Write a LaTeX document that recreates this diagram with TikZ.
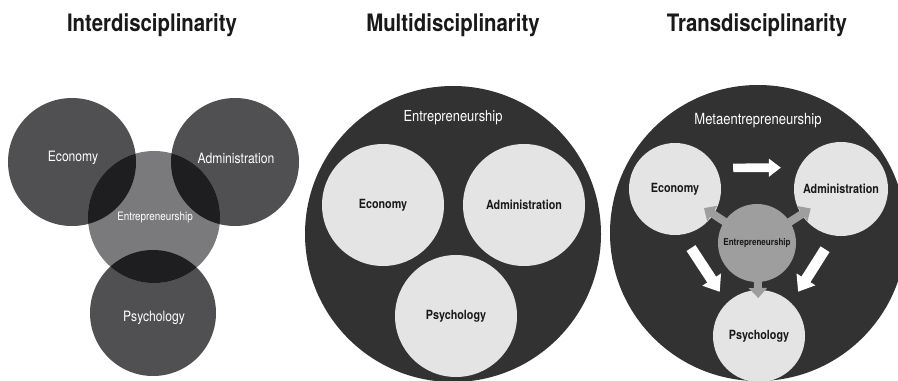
\documentclass[tikz,border=0pt]{standalone}
\usepackage{fontspec}
\setmainfont{TeX Gyre Heros}[FakeStretch=0.85]
\usetikzlibrary{arrows.meta}

\definecolor{ringgray}{RGB}{80,80,82}
\definecolor{entgray}{RGB}{122,122,124}
\definecolor{lensgray}{RGB}{30,30,32}
\definecolor{bigdark}{RGB}{50,50,50}
\definecolor{paper}{RGB}{228,228,228}
\definecolor{midgray}{RGB}{158,158,158}
\definecolor{ink}{RGB}{25,25,25}

\tikzset{
  disc/.style={circle, inner sep=0pt, minimum size={1.5pt*#1}},
  title/.style={anchor=base, font=\bfseries\fontsize{18}{20}\selectfont, text=ink},
  wlabel/.style={text=white, font=\fontsize{10.7}{12}\selectfont},
  blabel/.style={text=ink, font=\bfseries\fontsize{9.5}{11}\selectfont},
  warrow/.style={draw=white, line width=6.5pt, -{Triangle[length=9pt, width=13pt]}},
  widewarrow/.style={draw=white, line width=8pt, -{Triangle[length=11pt, width=16pt]}},
  garrow/.style={draw=midgray, line width=6pt, -{Triangle[length=7.5pt, width=13.5pt]}}
}

\begin{document}
\begin{tikzpicture}[x=0.75pt,y=-0.75pt]
\useasboundingbox (0,0) rectangle (898,381);
\clip (0,0) rectangle (898,381);
\fill[white] (0,0) rectangle (898,381);

\node[title] (tinter) at (152,32) {Interdisciplinarity};
\node[title] (tmulti) at (453,32) {Multidisciplinarity};
\node[title] (ttrans) at (757,32) {Transdisciplinarity};

% interdisciplinarity
\node[disc=64, fill=ringgray] (eco1) at (72,162) {};
\node[disc=64, fill=ringgray] (adm1) at (235,162) {};
\node[disc=63, fill=ringgray] (psy1) at (153,313) {};
\node[disc=66, fill=entgray] (ent1) at (154,217) {};
\begin{scope}
\clip (ent1.center) circle [radius=66];
\fill[lensgray] (eco1.center) circle [radius=64];
\fill[lensgray] (adm1.center) circle [radius=64];
\fill[lensgray] (psy1.center) circle [radius=63];
\end{scope}
\node[wlabel] (eco1t) at (73,158) {Economy};
\node[wlabel] (adm1t) at (236,158) {Administration};
\node[wlabel, font=\fontsize{8.7}{10}\selectfont] (ent1t) at (155,218) {Entrepreneurship};
\node[wlabel] (psy1t) at (154,318) {Psychology};

% multidisciplinarity
\node[disc=148, fill=bigdark] (ent2) at (453,234) {};
\node[wlabel, font=\fontsize{11.4}{13}\selectfont] (ent2t) at (453,118) {Entrepreneurship};
\node[disc=61, fill=paper, blabel] (eco2) at (383,205) {Economy};
\node[disc=61, fill=paper, blabel] (adm2) at (524,205) {Administration};
\node[disc=61, fill=paper, blabel] (psy2) at (456,316) {Psychology};

% transdisciplinarity
\node[disc=148, fill=bigdark] (ent3) at (758,233) {};
\node[wlabel, font=\fontsize{11.5}{13}\selectfont] (ent3t) at (758,121) {Metaentrepreneurship};
\node[disc=46, fill=paper, blabel] (eco3) at (675,189) {Economy};
\node[disc=47, fill=paper, blabel] (adm3) at (841,189) {Administration};
\node[disc=46, fill=paper, blabel] (psy3) at (759,336) {Psychology};

\draw[warrow, shorten <=12.75pt, shorten >=13.5pt] (eco3.27) -- (adm3.153);
\draw[widewarrow, shorten <=12pt, shorten >=9.75pt] (eco3.-81) -- (psy3.134);
\draw[widewarrow, shorten <=12pt, shorten >=9.75pt] (adm3.-99) -- (psy3.46);

\node[disc=39, fill=midgray, blabel, font=\bfseries\fontsize{7.1}{8}\selectfont] (mid3) at (757,243) {Entrepreneurship};
\draw[garrow, shorten <=27pt, shorten >=26pt] (mid3.center) -- (eco3.center);
\draw[garrow, shorten <=27pt, shorten >=27pt] (mid3.center) -- (adm3.center);
\draw[garrow, shorten <=27pt, shorten >=28.5pt] (mid3.center) -- (psy3.center);
\end{tikzpicture}
\end{document}
